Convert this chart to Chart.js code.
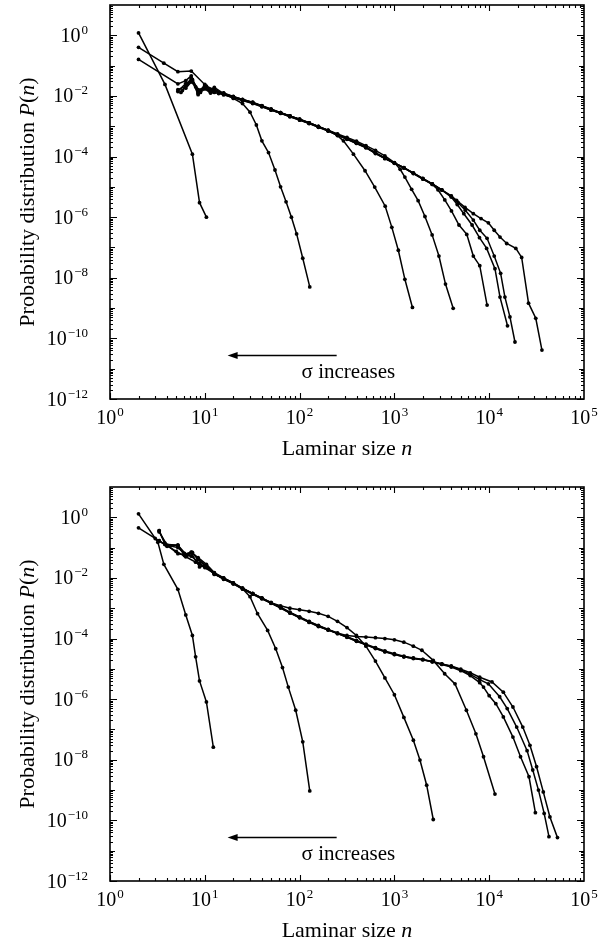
<!DOCTYPE html>
<html>
<head>
<meta charset="utf-8">
<script src="https://cdn.jsdelivr.net/npm/chart.js@4.4.1/dist/chart.umd.min.js"></script>
<style>
  html, body { margin: 0; padding: 0; background: #fff; }
  canvas { display: block; }
</style>
</head>
<body>
<canvas id="chartTop" width="611" height="482"></canvas>
<canvas id="chartBottom" width="611" height="461"></canvas>
<script>
// ── DATA ──────────────────────────────────────────────────────────────────────
// Each series is a list of [laminar size n, probability P(n)].

// Upper panel
const top1 = [[2,1.2],[3.8,2.4e-2],[7.4,1.2e-4],[8.8,3.0e-6],[10.4,1.0e-6]];
const top2 = [[2,0.40],[3.7,0.12],[5.2,6.3e-2],[7.2,6.6e-2],[10.4,2.1e-2],[12.6,1.6e-2],[15.8,1.2e-2],
  [20,8.3e-3],[25,5.6e-3],[30,2.9e-3],[35,1.1e-3],[40,3.3e-4],[47,1.35e-4],[55,3.6e-5],[63,1.0e-5],
  [72,3.2e-6],[82,1.0e-6],[93,2.8e-7],[108,4.4e-8],[128,5.0e-9]];
const top3 = [[2,0.16],[5.2,2.5e-2],[6.3,3.2e-2],[7.2,4.6e-2],[8.5,1.3e-2],[10,2.2e-2],[11.5,1.6e-2],
  [12.6,1.9e-2],[15.8,1.2e-2],[20,9.3e-3],[25,7.6e-3],[32,6.0e-3],[40,4.7e-3],[50,3.6e-3],[63,2.8e-3],
  [79,2.2e-3],[100,1.7e-3],[126,1.3e-3],[158,9.8e-4],[200,7.2e-4],[251,4.9e-4],[290,3.3e-4],[370,1.2e-4],
  [490,3.4e-5],[620,9.8e-6],[800,2.3e-6],[940,4.6e-7],[1100,8.1e-8],[1290,8.9e-9],[1550,1.05e-9]];
const top4 = [[5.6,1.3e-2],[6.3,2.2e-2],[7.2,3.8e-2],[8.5,1.1e-2],[10,2.4e-2],[11.5,1.5e-2],[12.6,1.7e-2],
  [15.8,1.1e-2],[20,9.0e-3],[25,7.2e-3],[32,5.8e-3],[40,4.5e-3],[50,3.4e-3],[63,2.7e-3],[79,2.1e-3],
  [100,1.6e-3],[126,1.25e-3],[158,9.6e-4],[200,7.4e-4],[251,5.6e-4],[316,4.3e-4],[398,3.2e-4],[501,2.3e-4],
  [631,1.6e-4],[794,1.05e-4],[1000,6.3e-5],[1150,3.8e-5],[1290,2.1e-5],[1520,8.3e-6],[1780,3.5e-6],
  [2100,1.05e-6],[2500,2.6e-7],[2950,5.2e-8],[3460,6.2e-9],[4170,9.8e-10]];
const top5 = [[5.2,1.4e-2],[6.3,2.6e-2],[7.2,3.2e-2],[8.5,1.6e-2],[10,1.9e-2],[11.5,1.3e-2],[12.6,1.5e-2],
  [15.8,1.15e-2],[20,9.1e-3],[25,7.4e-3],[32,5.9e-3],[40,4.6e-3],[50,3.5e-3],[63,2.75e-3],[79,2.14e-3],
  [100,1.66e-3],[126,1.26e-3],[158,9.5e-4],[200,7.1e-4],[251,5.2e-4],[316,3.8e-4],[398,2.75e-4],[501,2.0e-4],
  [631,1.26e-4],[794,8.5e-5],[1000,6.0e-5],[1259,4.2e-5],[1585,2.75e-5],[1995,1.8e-5],[2512,1.2e-5],
  [2880,8.0e-6],[3400,3.7e-6],[4000,1.6e-6],[4800,5.5e-7],[5800,2.7e-7],[6800,5.2e-8],[7950,2.5e-8],[9500,1.26e-9]];
const top6 = [[5.8,1.5e-2],[6.5,2.4e-2],[7.4,3.5e-2],[8.5,1.2e-2],[10,2.0e-2],[11.5,1.4e-2],[12.6,1.6e-2],
  [14,1.2e-2],[15.8,1.25e-2],[20,9.6e-3],[25,7.6e-3],[32,6.2e-3],[40,4.8e-3],[50,3.7e-3],[63,2.8e-3],
  [79,2.2e-3],[100,1.7e-3],[126,1.3e-3],[158,9.9e-4],[200,7.3e-4],[251,5.4e-4],[316,3.9e-4],[398,2.85e-4],
  [501,2.05e-4],[631,1.35e-4],[794,9.0e-5],[1000,6.2e-5],[1259,4.3e-5],[1585,2.9e-5],[1995,1.9e-5],
  [2512,1.25e-5],[3162,7.9e-6],[3981,4.6e-6],[4600,2.6e-6],[5400,1.3e-6],[6600,5.5e-7],[7900,2.1e-7],
  [9400,9.3e-8],[11500,2.0e-8],[13000,2.3e-9],[15600,2.6e-10]];
const top7 = [[6.3,1.8e-2],[7.2,2.9e-2],[8,2.0e-2],[9,1.3e-2],[10,1.7e-2],[11.5,1.25e-2],[12.6,1.3e-2],
  [15.8,1.1e-2],[20,8.7e-3],[25,7.0e-3],[32,5.6e-3],[40,4.4e-3],[50,3.4e-3],[63,2.65e-3],[79,2.05e-3],
  [100,1.6e-3],[126,1.22e-3],[158,9.2e-4],[200,6.9e-4],[251,5.0e-4],[316,3.7e-4],[398,2.7e-4],[501,1.95e-4],
  [631,1.3e-4],[794,8.8e-5],[1000,6.1e-5],[1259,4.25e-5],[1585,2.85e-5],[1995,1.85e-5],[2512,1.22e-5],
  [3162,7.8e-6],[3981,4.9e-6],[4700,3.0e-6],[5600,1.7e-6],[6800,8.0e-7],[7950,3.7e-7],[9500,2.0e-7],
  [11300,5.2e-8],[13200,1.4e-8],[14650,2.3e-9],[16550,5.1e-10],[18700,7.6e-11]];
const top8 = [[5.2,1.6e-2],[6.3,2.1e-2],[7.4,3.3e-2],[8.8,1.4e-2],[10,1.8e-2],[11.5,1.5e-2],[12.6,1.45e-2],
  [15.8,1.2e-2],[20,9.4e-3],[25,7.7e-3],[32,6.1e-3],[40,4.7e-3],[50,3.6e-3],[63,2.8e-3],[79,2.2e-3],
  [100,1.68e-3],[126,1.28e-3],[158,9.7e-4],[200,7.2e-4],[251,5.3e-4],[316,3.9e-4],[398,2.8e-4],[501,2.02e-4],
  [631,1.3e-4],[794,8.7e-5],[1000,6.1e-5],[1259,4.3e-5],[1585,2.8e-5],[1995,1.85e-5],[2512,1.25e-5],
  [3162,8.0e-6],[3981,5.0e-6],[4530,3.6e-6],[5560,2.1e-6],[6800,1.3e-6],[8200,9.0e-7],[9800,6.5e-7],
  [11300,3.7e-7],[13000,2.2e-7],[15300,1.35e-7],[19100,9.3e-8],[22000,4.7e-8],[26000,1.45e-9],
  [31000,4.6e-10],[36000,4.1e-11]];

// Lower panel
const bot1 = [[2,1.3],[3.2,0.15],[3.7,2.8e-2],[5.2,4.2e-3],[6.3,6.0e-4],[7.4,1.26e-4],[8.0,2.5e-5],
  [8.8,4.0e-6],[10.4,8.1e-7],[12.3,2.6e-8]];
const bot2 = [[2,0.45],[3,0.2],[4,0.115],[5,7.5e-2],[6.3,5.0e-2],[8,3.3e-2],[10,2.2e-2],[12.6,1.4e-2],
  [15.8,9.5e-3],[20,6.6e-3],[25,4.4e-3],[30,2.4e-3],[36,6.6e-4],[46,1.85e-4],[56,4.6e-5],[66,1.1e-5],
  [76,2.5e-6],[91,4.3e-7],[108,3.9e-8],[128,9.4e-10]];
const bot3 = [[3.3,0.36],[3.8,0.13],[5.2,0.12],[6.1,6.0e-2],[7.2,7.0e-2],[8.5,4.7e-2],[10.4,2.8e-2],
  [12.6,1.5e-2],[15.8,1.0e-2],[20,6.8e-3],[25,4.5e-3],[32,3.1e-3],[40,2.2e-3],[50,1.5e-3],[63,1.2e-3],
  [79,1.0e-3],[100,8.9e-4],[126,7.9e-4],[158,6.8e-4],[200,5.4e-4],[251,3.7e-4],[316,2.3e-4],[398,1.26e-4],
  [501,5.6e-5],[631,1.8e-5],[794,5.0e-6],[1000,1.4e-6],[1259,2.5e-7],[1585,4.4e-8],[1860,9.8e-9],
  [2190,1.45e-9],[2570,1.07e-10]];
const bot4 = [[3.3,0.17],[3.8,0.126],[5.2,0.118],[6.1,5.5e-2],[7.2,6.6e-2],[8.8,2.3e-2],[10.4,2.6e-2],
  [12.6,1.3e-2],[15.8,9.8e-3],[20,6.4e-3],[25,4.6e-3],[32,3.0e-3],[40,2.1e-3],[50,1.5e-3],[63,1.05e-3],
  [79,7.2e-4],[100,5.0e-4],[126,3.6e-4],[158,2.6e-4],[200,1.95e-4],[251,1.5e-4],[316,1.26e-4],[398,1.17e-4],
  [501,1.12e-4],[631,1.07e-4],[794,1.0e-4],[1000,9.1e-5],[1259,7.6e-5],[1585,5.6e-5],[1950,4.1e-5],
  [2570,1.9e-5],[3390,6.9e-6],[4360,3.2e-6],[5750,4.3e-7],[7240,7.2e-8],[8710,1.26e-8],[11500,7.4e-10]];
const bot5 = [[3.3,0.36],[3.8,0.14],[5.2,6.3e-2],[6.1,5.8e-2],[7.2,7.1e-2],[8.5,4.2e-2],[10.4,2.4e-2],
  [12.6,1.4e-2],[15.8,9.0e-3],[20,6.6e-3],[25,4.4e-3],[32,3.0e-3],[40,2.1e-3],[50,1.5e-3],[63,1.05e-3],
  [79,7.1e-4],[100,5.0e-4],[126,3.5e-4],[158,2.6e-4],[200,1.95e-4],[251,1.48e-4],[316,1.12e-4],[398,8.3e-5],
  [501,6.3e-5],[631,4.8e-5],[794,3.7e-5],[1000,3.0e-5],[1259,2.5e-5],[1585,2.2e-5],[1995,2.0e-5],
  [2512,1.7e-5],[3162,1.4e-5],[3981,1.15e-5],[5012,8.7e-6],[6310,6.0e-6],[7940,3.5e-6],[8710,2.5e-6],
  [10000,1.3e-6],[11750,7.1e-7],[14100,2.6e-7],[17800,5.6e-8],[21400,1.26e-8],[26300,2.75e-9],[30700,1.8e-10]];
const bot6 = [[3.3,0.33],[4,0.12],[5.2,0.1],[6.1,6.5e-2],[7.2,5.2e-2],[8.8,3.0e-2],[10.4,2.2e-2],
  [12.6,1.45e-2],[15.8,9.8e-3],[20,6.8e-3],[25,4.6e-3],[32,3.05e-3],[40,2.15e-3],[50,1.55e-3],[63,1.08e-3],
  [79,7.4e-4],[100,5.2e-4],[126,3.65e-4],[158,2.7e-4],[200,2.0e-4],[251,1.52e-4],[316,1.15e-4],[398,8.6e-5],
  [501,6.5e-5],[631,5.0e-5],[794,3.9e-5],[1000,3.15e-5],[1259,2.6e-5],[1585,2.3e-5],[1995,2.05e-5],
  [2512,1.75e-5],[3162,1.45e-5],[3981,1.2e-5],[5012,9.3e-6],[6310,6.6e-6],[7943,4.4e-6],[9800,3.2e-6],
  [12900,1.2e-6],[15500,4.9e-7],[19500,1.2e-7],[25100,2.0e-8],[28800,4.6e-9],[33100,1.0e-9],
  [38000,1.7e-10],[42700,2.9e-11]];
const bot7 = [[3.3,0.17],[4,0.11],[5.2,0.12],[6.5,5.5e-2],[7.4,7.0e-2],[8.5,4.0e-2],[10,2.6e-2],
  [12.6,1.35e-2],[15.8,9.2e-3],[20,6.4e-3],[25,4.3e-3],[32,2.9e-3],[40,2.05e-3],[50,1.45e-3],[63,1.02e-3],
  [79,6.9e-4],[100,4.85e-4],[126,3.4e-4],[158,2.5e-4],[200,1.9e-4],[251,1.45e-4],[316,1.1e-4],[398,8.1e-5],
  [501,6.2e-5],[631,4.7e-5],[794,3.65e-5],[1000,2.95e-5],[1259,2.5e-5],[1585,2.2e-5],[1995,2.0e-5],
  [2512,1.72e-5],[3162,1.45e-5],[3981,1.25e-5],[5012,9.8e-6],[6310,7.4e-6],[7943,5.3e-6],[10700,3.7e-6],
  [14100,1.7e-6],[17800,5.5e-7],[22600,1.2e-7],[26900,3.0e-8],[31600,5.9e-9],[37200,8.7e-10],
  [43700,1.3e-10],[52500,2.7e-11]];

// Axis ranges and tick exponents
const xDecades = [0, 1, 2, 3, 4, 5];
const yLabelDecades = [0, -2, -4, -6, -8, -10, -12];
const xRange = [1, 1e5];
const yRange = [1e-12, 10];

// Arrow annotation, in data units: [nFrom, nTo, P]
const arrowPos = [246, 17.4, 2.8e-11];
const notePos = [105, 4.9e-12];
const noteText = 'σ increases';

// ── DRAWING ───────────────────────────────────────────────────────────────────
const SERIF = '"Liberation Serif", "Times New Roman", serif';
const BASE_FONT = '20px ' + SERIF;
const SUP_FONT = '13px ' + SERIF;

function drawPow(ctx, exp, x, y, align) {
  const base = '10';
  const sup = exp < 0 ? '\u2212' + (-exp) : String(exp);
  ctx.font = BASE_FONT;
  const wb = ctx.measureText(base).width;
  ctx.font = SUP_FONT;
  const ws = ctx.measureText(sup).width;
  const w = wb + 1 + ws;
  const x0 = align === 'right' ? x - w : x - w / 2;
  ctx.textAlign = 'left';
  ctx.textBaseline = 'alphabetic';
  ctx.font = BASE_FONT;
  ctx.fillText(base, x0, y);
  ctx.font = SUP_FONT;
  ctx.fillText(sup, x0 + wb + 1, y - 8);
}

// draw a run of [text, italic] pieces starting at x (current transform)
function drawRuns(ctx, runs, size, x, y) {
  let cx = x;
  runs.forEach(([t, it]) => {
    ctx.font = (it ? 'italic ' : '') + size + 'px ' + SERIF;
    ctx.fillText(t, cx, y);
    cx += ctx.measureText(t).width;
  });
}
function runsWidth(ctx, runs, size) {
  return runs.reduce((s, [t, it]) => {
    ctx.font = (it ? 'italic ' : '') + size + 'px ' + SERIF;
    return s + ctx.measureText(t).width;
  }, 0);
}

const frame = {
  id: 'frame',
  afterDraw(chart) {
    const { ctx, chartArea: a, scales: { x, y } } = chart;
    ctx.save();
    ctx.strokeStyle = '#000';
    ctx.fillStyle = '#000';

    // box
    ctx.lineWidth = 1.6;
    ctx.strokeRect(a.left, a.top, a.right - a.left, a.bottom - a.top);

    // x ticks (bottom and top, pointing inward)
    ctx.lineWidth = 1.1;
    ctx.beginPath();
    for (let e = 0; e < 5; e++) {
      for (let m = 1; m <= 9; m++) {
        const px = Math.round(x.getPixelForValue(m * Math.pow(10, e))) + 0.5;
        const len = m === 1 ? 6 : 3;
        ctx.moveTo(px, a.bottom); ctx.lineTo(px, a.bottom - len);
        ctx.moveTo(px, a.top); ctx.lineTo(px, a.top + len);
      }
    }
    // y ticks (left and right)
    for (let e = -12; e <= 0; e++) {
      for (let m = 1; m <= 9; m++) {
        const py = Math.round(y.getPixelForValue(m * Math.pow(10, e))) + 0.5;
        const len = m === 1 ? (e % 2 === 0 ? 7 : 5) : 3;
        ctx.moveTo(a.left, py); ctx.lineTo(a.left + len, py);
        ctx.moveTo(a.right, py); ctx.lineTo(a.right - len, py);
      }
    }
    ctx.stroke();

    // tick labels
    xDecades.forEach(e => drawPow(ctx, e, x.getPixelForValue(Math.pow(10, e)), a.bottom + 25, 'center'));
    yLabelDecades.forEach(e => drawPow(ctx, e, 88, y.getPixelForValue(Math.pow(10, e)) + 6.5, 'right'));

    // axis titles
    const xRuns = [['Laminar size ', false], ['n', true]];
    const xw = runsWidth(ctx, xRuns, 22);
    ctx.textAlign = 'left';
    drawRuns(ctx, xRuns, 22, (a.left + a.right) / 2 - xw / 2, a.bottom + 56);

    const yRuns = [['Probability distribution ', false], ['P', true], ['(', false], ['n', true], [')', false]];
    const yw = runsWidth(ctx, yRuns, 22);
    ctx.save();
    ctx.translate(34, (a.top + a.bottom) / 2);
    ctx.rotate(-Math.PI / 2);
    drawRuns(ctx, yRuns, 22, -yw / 2, 0);
    ctx.restore();

    // arrow "sigma increases"
    const ax0 = x.getPixelForValue(arrowPos[0]);
    const ax1 = x.getPixelForValue(arrowPos[1]);
    const ay = Math.round(y.getPixelForValue(arrowPos[2])) + 0.5;
    ctx.lineWidth = 1.6;
    ctx.beginPath();
    ctx.moveTo(ax0, ay); ctx.lineTo(ax1 + 6, ay);
    ctx.stroke();
    ctx.beginPath();
    ctx.moveTo(ax1, ay);
    ctx.lineTo(ax1 + 10, ay - 3.5);
    ctx.lineTo(ax1 + 10, ay + 3.5);
    ctx.closePath();
    ctx.fill();

    ctx.font = '21px ' + SERIF;
    ctx.textAlign = 'left';
    ctx.fillText(noteText, x.getPixelForValue(notePos[0]), y.getPixelForValue(notePos[1]));
    ctx.restore();
  }
};

function series(list) {
  return {
    data: list.map(([n, p]) => ({ x: n, y: p })),
    showLine: true,
    borderColor: '#000',
    borderWidth: 1.5,
    pointRadius: 1.9,
    pointBackgroundColor: '#000',
    pointBorderWidth: 0,
    tension: 0
  };
}

function makeChart(id, lists, padBottom) {
  return new Chart(document.getElementById(id), {
    type: 'scatter',
    data: { datasets: lists.map(series) },
    options: {
      responsive: false,
      animation: false,
      events: [],
      layout: { padding: { left: 110, right: 27, top: 5, bottom: padBottom } },
      plugins: { legend: { display: false }, tooltip: { enabled: false } },
      scales: {
        x: { type: 'logarithmic', min: xRange[0], max: xRange[1], display: false },
        y: { type: 'logarithmic', min: yRange[0], max: yRange[1], display: false }
      }
    },
    plugins: [frame]
  });
}

makeChart('chartTop', [top1, top2, top3, top4, top5, top6, top7, top8], 83);
makeChart('chartBottom', [bot1, bot2, bot3, bot4, bot5, bot6, bot7], 62);
</script>
</body>
</html>
